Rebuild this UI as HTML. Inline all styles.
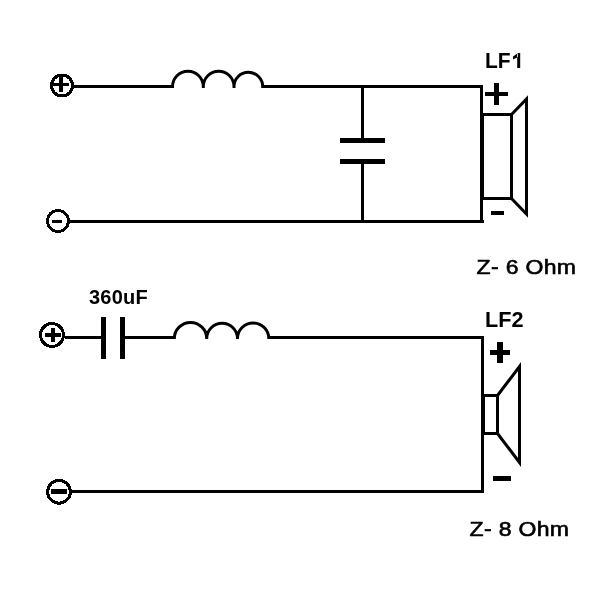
<!DOCTYPE html>
<html><head><meta charset="utf-8"><style>
html,body{margin:0;padding:0;background:#fff;width:616px;height:589px;overflow:hidden}
svg{display:block;position:absolute;left:0;top:0}
text{font-family:"Liberation Sans",sans-serif;fill:#000}
svg{will-change:transform}
</style></head><body>
<svg width="616" height="589" viewBox="0 0 616 589">
<g fill="#000" shape-rendering="crispEdges">
<!-- TOP CIRCUIT -->
<!-- top wire -->
<rect x="74" y="85" width="98" height="3"/>
<rect x="262" y="85" width="221" height="3"/>
<!-- bottom wire -->
<rect x="70" y="220" width="414" height="3"/>
<!-- cap vertical -->
<rect x="361" y="85" width="3" height="54"/>
<rect x="361" y="163" width="3" height="60"/>
<rect x="340" y="138" width="45" height="5"/>
<rect x="340" y="159" width="45" height="5"/>
<!-- plus sign in circle -->
<rect x="59" y="75" width="4" height="17"/>
<rect x="53" y="83" width="16" height="3"/>
<!-- minus in circle -->
<rect x="52" y="220" width="10" height="3"/>
<!-- speaker vertical -->
<rect x="480" y="85" width="3" height="138"/>
<!-- rect -->
<rect x="480" y="113" width="33" height="3"/>
<rect x="480" y="197" width="33" height="3"/>
<rect x="510" y="113" width="3" height="87"/>
<rect x="480" y="113" width="4" height="87"/>
<!-- speaker plus/minus -->
<rect x="485" y="92" width="23" height="4"/>
<rect x="494" y="83" width="5" height="22"/>
<rect x="491" y="211" width="13" height="4"/>

<!-- BOTTOM CIRCUIT -->
<rect x="65" y="336" width="36" height="3"/>
<rect x="125" y="336" width="50" height="3"/>
<rect x="269" y="336" width="215" height="3"/>
<rect x="101" y="317" width="5" height="42"/>
<rect x="120" y="317" width="5" height="42"/>
<rect x="72" y="490" width="412" height="3"/>
<rect x="45" y="333" width="16" height="4"/>
<rect x="51" y="328" width="4" height="14"/>
<rect x="51" y="489" width="16" height="5"/>
<rect x="481" y="336" width="3" height="157"/>
<rect x="481" y="394" width="18" height="3"/>
<rect x="481" y="432" width="18" height="3"/>
<rect x="496" y="394" width="3" height="41"/>
<rect x="481" y="394" width="4" height="41"/>
<rect x="490" y="350" width="20" height="5"/>
<rect x="497" y="342" width="6" height="21"/>
<rect x="493" y="476" width="18" height="5"/>
</g>
<g fill="none" stroke="#000" stroke-width="3" shape-rendering="crispEdges">
<circle cx="62" cy="85.5" r="10.5"/>
<circle cx="58" cy="221" r="10.5"/>
<circle cx="52" cy="335" r="11.5"/>
<circle cx="59" cy="491.8" r="11.4"/>
</g>
<g fill="none" stroke="#000" stroke-width="3">
<path d="M172.5 88 V86.6 A15.4 15.4 0 0 1 203.3 86.6 V88 M203.3 88 V86.6 A15.35 15.35 0 0 1 234 86.6 V88 M234 88 V86.6 A14.35 14.35 0 0 1 262.7 86.6 V88"/>
<path d="M174.35 339 V338.6 A16.17 16.17 0 0 1 206.7 338.6 V339 M206.7 339 V338.6 A15.4 15.4 0 0 1 237.5 338.6 V339 M237.5 339 V338.6 A15.65 15.65 0 0 1 268.8 338.6 V339"/>
</g>
<g fill="none" stroke="#000" stroke-width="3" stroke-linejoin="miter" stroke-miterlimit="10">
<path d="M511.5 114.5 L526.5 99 L526.5 214 L511.5 198.5"/>
<path d="M497.5 395.5 L519.5 366.5 L519.5 462.5 L497.5 433.5"/>
</g>
<g font-weight="bold">
<text transform="translate(485 68) scale(1 1.08)" font-size="21">LF</text>
<path d="M517.2 53 H520.2 V68 H517.2 Z M518 53 L513 56.6 L513 59.6 L518 57 Z"/>
<text transform="translate(485 327) scale(1.03 1.06)" font-size="21">LF2</text>
<text x="89" y="303.6" font-size="20" letter-spacing="0.2">360uF</text>
</g>
<g font-size="20" letter-spacing="0.3" stroke="#000" stroke-width="0.6">
<text transform="translate(476.5 274) scale(1.15 1)">Z- 6 Ohm</text>
<text transform="translate(469.5 536) scale(1.15 1)">Z- 8 Ohm</text>
</g>
</svg>
</body></html>
